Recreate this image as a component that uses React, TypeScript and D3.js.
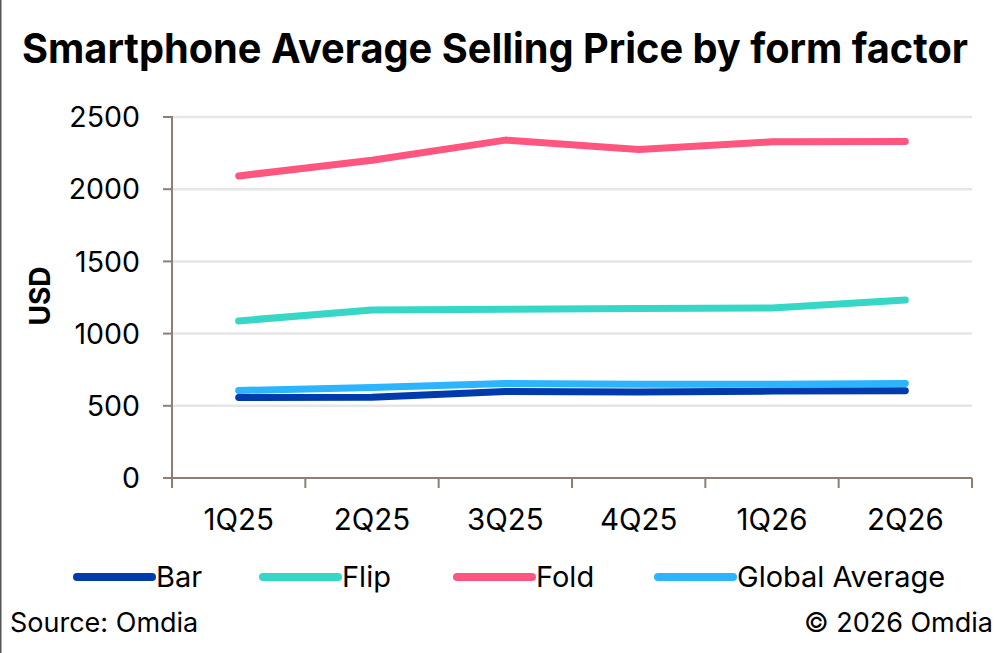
import React from "react";
import * as d3 from "d3";

const categories = ["1Q25", "2Q25", "3Q25", "4Q25", "1Q26", "2Q26"];
const barValues = [558, 560, 599, 595, 602, 604];
const flipValues = [1088, 1164, 1169, 1173, 1178, 1233];
const foldValues = [2092, 2200, 2340, 2275, 2328, 2330];
const globalValues = [606, 627, 655, 650, 650, 655];
const yTicks = [0, 500, 1000, 1500, 2000, 2500];

const seriesNames = ["Bar", "Flip", "Fold", "Global Average"];
const seriesColors = ["#003BAE", "#36D7C7", "#FF5680", "#2CB4FF"];

const W = 1000;
const H = 653;
const FONT = "Inter, 'Open Sans', sans-serif";

export default function App() {
  const left = 172;
  const right = 972;
  const top = 117;
  const bottom = 478;
  const x = d3.scaleBand<string>().domain(categories).range([left, right]);
  const y = d3.scaleLinear().domain([0, 2500]).range([bottom, top]);
  const line = d3
    .line<number>()
    .x((_, i) => (x(categories[i]) as number) + x.bandwidth() / 2)
    .y((v) => y(v));
  const series = [barValues, flipValues, foldValues, globalValues];
  const legendX = [77, 263, 457, 658];
  const boundaries = categories.map((c) => x(c) as number).concat([right]);

  return (
    <svg
      width={W}
      height={H}
      viewBox={`0 0 ${W} ${H}`}
      style={{ position: "absolute", left: 0, top: 0, background: "#fff" }}
      fontFamily={FONT}
    >
      <rect x={0} y={0} width={W} height={H} fill="#fff" />
      <line x1={0.75} x2={0.75} y1={0} y2={H} stroke="#555" strokeWidth={1.5} />
      <text
        x={22}
        y={63}
        fontSize={41}
        fontWeight={700}
        fill="#000"
        textLength={946}
        lengthAdjust="spacingAndGlyphs"
      >
        Smartphone Average Selling Price by form factor
      </text>

      {yTicks.map((t) => (
        <g key={t}>
          {t > 0 && (
            <line x1={left} x2={right} y1={y(t)} y2={y(t)} stroke="#E6E6E6" strokeWidth={2.5} />
          )}
          <line x1={163} x2={left} y1={y(t)} y2={y(t)} stroke="#8C8076" strokeWidth={2} />
          <text x={140} y={y(t)} dy="0.36em" textAnchor="end" fontSize={28.5} fill="#000">
            {t}
          </text>
        </g>
      ))}
      <line x1={left} x2={left} y1={top - 1} y2={bottom + 10} stroke="#8C8076" strokeWidth={2} />
      <line x1={left} x2={right} y1={bottom} y2={bottom} stroke="#8C8076" strokeWidth={2} />
      {boundaries.map((b, i) => (
        <line key={i} x1={b} x2={b} y1={bottom} y2={bottom + 10} stroke="#8C8076" strokeWidth={2} />
      ))}
      {categories.map((c) => (
        <text
          key={c}
          x={(x(c) as number) + x.bandwidth() / 2}
          y={530}
          textAnchor="middle"
          fontSize={29.5}
          fill="#000"
        >
          {c}
        </text>
      ))}
      <text
        transform="translate(50,296) rotate(-90)"
        textAnchor="middle"
        fontSize={28}
        fontWeight={700}
        fill="#000"
      >
        USD
      </text>

      {series.map((s, i) => (
        <path
          key={seriesNames[i]}
          d={line(s) || ""}
          fill="none"
          stroke={seriesColors[i]}
          strokeWidth={7}
          strokeLinecap="round"
          strokeLinejoin="round"
        />
      ))}

      {seriesNames.map((n, i) => (
        <g key={n}>
          <line
            x1={legendX[i]}
            x2={legendX[i] + 75}
            y1={577}
            y2={577}
            stroke={seriesColors[i]}
            strokeWidth={8}
            strokeLinecap="round"
          />
          <text x={legendX[i] + 79} y={577} dy="0.36em" fontSize={29} fill="#000">
            {n}
          </text>
        </g>
      ))}

      <text x={10} y={632} fontSize={27} fill="#000">
        Source: Omdia
      </text>
      <text x={993} y={632} textAnchor="end" fontSize={27} fill="#000">
        © 2026 Omdia
      </text>
    </svg>
  );
}
